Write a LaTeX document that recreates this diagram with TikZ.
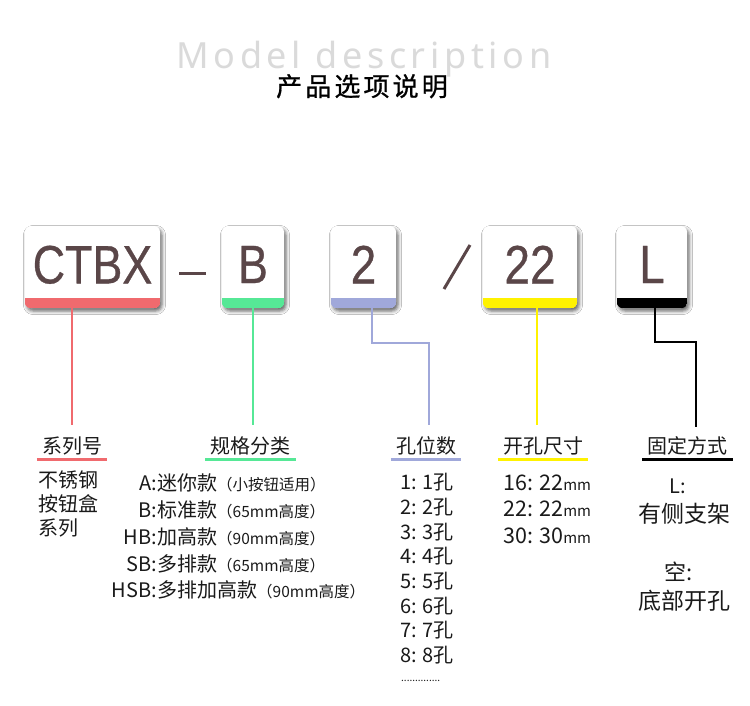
\documentclass[tikz,border=0pt]{standalone}
\usepackage{fontspec}
\usepackage{graphicx}
\usepackage{tikz}
\usetikzlibrary{
  calc,
  shadows.blur
}
\setmainfont{Noto Sans CJK SC}
\newfontfamily\keyfont{Liberation Sans}[FakeBold=0.6]
\newfontfamily\entitlefont{Noto Sans}[LetterSpace=13]
\newfontfamily\cntitlefont{Noto Sans CJK SC}[LetterSpace=12,FakeBold=0.8]
\definecolor{keytext}{RGB}{90,70,72}
\definecolor{titlegray}{RGB}{218,218,218}
\definecolor{barred}{RGB}{240,106,110}
\definecolor{bargreen}{RGB}{86,232,150}
\definecolor{barblue}{RGB}{160,168,218}
\definecolor{baryellow}{RGB}{255,242,0}
\definecolor{ink}{RGB}{26,26,26}

\begin{document}
\begin{tikzpicture}[
  x=1pt, y=-1pt,
  keybox/.style={rectangle,rounded corners=6pt,fill=white,minimum height=82pt,inner sep=0pt,
    font=\keyfont\fontsize{54}{54}\selectfont,text=keytext,text depth=5pt,
    blur shadow={shadow xshift=2pt,shadow yshift=-3pt,shadow blur radius=3.5pt,shadow opacity=60}},
  sep/.style={draw=keytext,line width=3pt},
  conn/.style={line width=2pt},
  head/.style={font=\fontsize{20}{24}\selectfont,text=ink,inner xsep=5pt,inner ysep=4pt,
    text height=15pt,text depth=2pt,anchor=base},
  ul/.style={line width=3pt},
  body/.style={font=\fontsize{20}{24}\selectfont,text=ink,inner sep=0pt},
]
\useasboundingbox (0,0) rectangle (750,705);
\fill[white] (0,0) rectangle (750,705);

% titles
\node[font=\entitlefont\fontsize{36}{36}\selectfont,text=titlegray,anchor=base] (entitle) at (364,68) {Model description};
\node[font=\cntitlefont\fontsize{26}{26}\selectfont,text=black,anchor=base] (cntitle) at (362,96) {产品选项说明};

% model code boxes
\node[keybox,minimum width=135pt] (ctbx) at (92.5,267) {\scalebox{0.83}[1]{CTBX}};
\node[keybox,minimum width=62pt] (bsel) at (253,267) {\scalebox{0.83}[1]{B}};
\node[keybox,minimum width=65pt] (nhole) at (363.5,267) {\scalebox{0.85}[1]{2}};
\node[keybox,minimum width=94pt] (dia) at (530,267) {\scalebox{0.85}[1]{22}};
\node[keybox,minimum width=70pt] (mount) at (652,267) {\scalebox{0.85}[1]{L}};
\foreach \n/\c in {ctbx/barred,bsel/bargreen,nhole/barblue,dia/baryellow,mount/black} {
  \begin{scope}
    \clip[rounded corners=6pt] (\n.south west) rectangle (\n.north east);
    \fill[\c] (\n.south west) rectangle ([yshift=10pt]\n.south east);
  \end{scope}
}
\draw[sep] (179,273) -- (206,273);
\draw[sep] (444,289) -- (470,245);

% headings
\node[head] (lseries) at (72,453) {系列号};
\node[head] (lspec) at (250.5,453) {规格分类};
\node[head] (lholes) at (426,453) {孔位数};
\node[head] (ldia) at (543,453) {开孔尺寸};
\node[head] (lmount) at (687.5,453) {固定方式};
\draw[ul,barred] (lseries.south west) -- (lseries.south east);
\draw[ul,bargreen] (lspec.south west) -- (lspec.south east);
\draw[ul,barblue] (lholes.south west) -- (lholes.south east);
\draw[ul,baryellow] (ldia.south west) -- (ldia.south east);
\draw[ul,black] (lmount.south west) -- (lmount.south east);

% connectors
\draw[conn,barred,shorten >=9pt] (ctbx.south -| lseries) -- (lseries.north);
\draw[conn,bargreen,shorten >=9pt] (bsel.south) -- (bsel.south |- lspec.north);
\draw[conn,barblue,shorten >=9pt] ([xshift=8.5pt]nhole.south) -- ++(0,35) -| ([xshift=3pt]lholes.north);
\draw[conn,baryellow,shorten >=9pt] ([xshift=7pt]dia.south) -- ([xshift=7pt]dia.south |- ldia.north);
\draw[conn,black,shorten >=7pt] ([xshift=3pt]mount.south) -- ++(0,34) -| ([xshift=8.5pt]lmount.north);

% series
\node[body,anchor=north west,align=left] (series) at (38,471) {不锈钢\\按钮盒\\系列};

% spec list
\foreach \k/\t/\n [count=\i] in {A/迷你款/小按钮适用,B/标准款/65mm高度,HB/加高款/90mm高度,SB/多排款/65mm高度,HSB/多排加高款/90mm高度} {
  \node[body,anchor=base east] (speck\i) at (157,463.8+26.8*\i) {\k:};
  \node[body,anchor=base west] (specv\i) at (speck\i.base east) {\t{\fontsize{15.5}{18}\selectfont（\n）}};
}

% hole count list
\foreach \i in {1,...,8}
  \node[body,anchor=base west] (hole\i) at (400,464.9+24.7*\i) {\i: {\i}孔};
\node[body,anchor=base west,font=\fontsize{10}{12}\selectfont] (holedots) at (401,681) {..............};

% hole size list
\foreach \a/\b [count=\i] in {16/22,22/22,30/30}
  \node[body,anchor=base west,font=\fontsize{21.5}{24}\selectfont] (size\i) at (503,463.5+26.5*\i) {\a: \b{\fontsize{15}{18}\selectfont mm}};

% mounting
\node[body,anchor=base] (mountl) at (678,493) {L:};
\node[body,anchor=base,font=\fontsize{23}{26}\selectfont] (mountlt) at (684,522) {有侧支架};
\node[body,anchor=base,font=\fontsize{22}{26}\selectfont] (mounte) at (679,580) {空:};
\node[body,anchor=base,font=\fontsize{23}{26}\selectfont] (mountet) at (684,609) {底部开孔};
\end{tikzpicture}
\end{document}
